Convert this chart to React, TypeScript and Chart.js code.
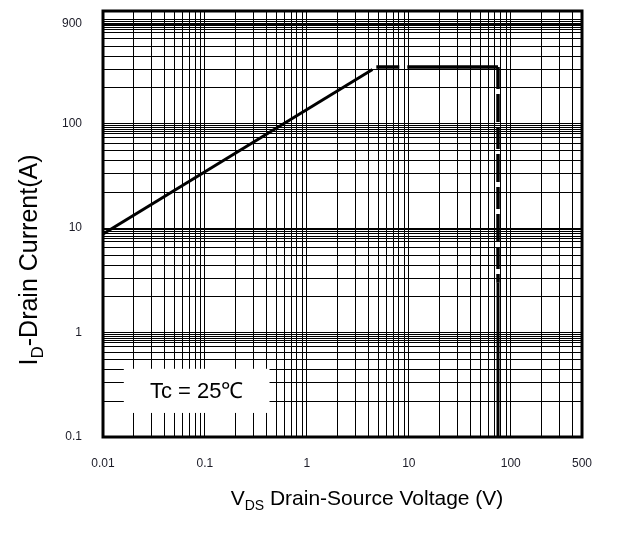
import React, { useEffect, useRef } from 'react';
import { Chart, registerables } from 'chart.js';

Chart.register(...registerables);

// ---- axis ranges & tick labels ----
const xMin = 0.01;
const xMax = 500;
const yMin = 0.1;
const yMax = 1200;
const xTickLabels = [0.01, 0.1, 1, 10, 100, 500];
const yTickLabels = [0.1, 1, 10, 100, 900];
const xGridMantissas = [1, 2, 3, 4, 5, 6, 7, 8, 9];
const xGridExponents = [-2, -1, 0, 1, 2];
const yGridDecades = [1, 10, 100, 1000];
const yGridFactors = [1, 0.96, 0.92, 0.88, 0.84, 0.8, 0.74, 0.65, 0.55, 0.44, 0.33, 0.22];

// ---- SOA boundary (V, A) ----
const rdsLimitV = [0.01, 4.4];
const rdsLimitI = [8.8, 330];
const currentLimitV = [4.8, 75];
const currentLimitI = [350, 350];
const voltageDashV = [75, 75];
const voltageDashI = [350, 3];
const voltageSolidV = [75, 75];
const voltageSolidI = [3, 0.1];

// ---- annotation box (data coords) ----
const noteText = 'Tc = 25\u2103';
const noteX = [0.016, 0.43];
const noteY = [0.17, 0.45];

const FONT = '"Liberation Sans", Arial, sans-serif';

const round = (v: number) => parseFloat(v.toPrecision(6));
const near = (a: number, list: number[]) => list.some((b) => Math.abs(a - b) / b < 1e-6);

const xGridValues = (() => {
  const s: number[] = [];
  xGridExponents.forEach((e) => xGridMantissas.forEach((m) => s.push(round(m * Math.pow(10, e)))));
  xTickLabels.forEach((v) => s.push(v));
  return Array.from(new Set(s.filter((v) => v >= xMin && v <= xMax))).sort((a, b) => a - b);
})();

const yGridValues = (() => {
  const s: number[] = [];
  yGridDecades.forEach((d) => yGridFactors.forEach((f) => s.push(round(d * f))));
  yTickLabels.forEach((v) => s.push(v));
  return Array.from(new Set(s.filter((v) => v >= yMin && v <= yMax))).sort((a, b) => a - b);
})();

const pts = (xs: number[], ys: number[]) => xs.map((x, i) => ({ x, y: ys[i] }));

function drawSubText(
  ctx: CanvasRenderingContext2D,
  parts: { t: string; sub?: boolean }[],
  size: number
) {
  const subSize = Math.round(size * 0.68);
  let total = 0;
  const widths = parts.map((p) => {
    ctx.font = `${p.sub ? subSize : size}px ${FONT}`;
    const w = ctx.measureText(p.t).width;
    total += w;
    return w;
  });
  let x = -total / 2;
  parts.forEach((p, i) => {
    ctx.font = `${p.sub ? subSize : size}px ${FONT}`;
    ctx.fillText(p.t, x, p.sub ? size * 0.22 : 0);
    x += widths[i];
  });
}

const decorPlugin = {
  id: 'decor',
  afterDatasetsDraw(chart: any) {
    const { ctx, scales } = chart;
    const x = scales.x;
    const y = scales.y;
    const l = x.getPixelForValue(noteX[0]);
    const r = x.getPixelForValue(noteX[1]);
    const t = y.getPixelForValue(noteY[1]);
    const b = y.getPixelForValue(noteY[0]);
    ctx.save();
    ctx.fillStyle = '#ffffff';
    ctx.fillRect(l, t, r - l, b - t);
    ctx.fillStyle = '#000';
    ctx.font = `22px ${FONT}`;
    ctx.textAlign = 'center';
    ctx.textBaseline = 'middle';
    ctx.fillText(noteText, (l + r) / 2, (t + b) / 2 + 1);
    ctx.restore();
  },
  afterDraw(chart: any) {
    const { ctx, chartArea } = chart;
    const { left, right, top, bottom } = chartArea;
    ctx.save();
    ctx.strokeStyle = '#000';
    ctx.lineWidth = 3;
    ctx.strokeRect(left, top, right - left, bottom - top);

    ctx.fillStyle = '#000';
    ctx.textAlign = 'left';
    ctx.textBaseline = 'alphabetic';
    // x title
    ctx.save();
    ctx.translate(367, 505);
    drawSubText(
      ctx,
      [{ t: 'V' }, { t: 'DS', sub: true }, { t: ' Drain-Source Voltage (V)' }],
      21
    );
    ctx.restore();
    // y title
    ctx.save();
    ctx.translate(37, 260);
    ctx.rotate(-Math.PI / 2);
    drawSubText(ctx, [{ t: 'I' }, { t: 'D', sub: true }, { t: '-Drain Current(A)' }], 25);
    ctx.restore();
    ctx.restore();
  },
};

export default function App() {
  const ref = useRef<HTMLCanvasElement | null>(null);

  useEffect(() => {
    if (!ref.current) return;
    const lineBase = {
      borderColor: '#000',
      backgroundColor: '#000',
      pointRadius: 0,
      fill: false,
      tension: 0,
      showLine: true,
    };
    const chart = new Chart(ref.current, {
      type: 'line',
      data: {
        datasets: [
          { ...lineBase, label: 'RDS(on) limit', data: pts(rdsLimitV, rdsLimitI), borderWidth: 3 },
          {
            ...lineBase,
            label: 'Current limit',
            data: pts(currentLimitV, currentLimitI),
            borderWidth: 3.5,
            borderDash: [23, 8, 300, 8],
          },
          {
            ...lineBase,
            label: 'BVDSS limit dashed',
            data: pts(voltageDashV, voltageDashI),
            borderWidth: 3.5,
            borderDash: [22, 5, 28, 5],
          },
          {
            ...lineBase,
            label: 'BVDSS limit',
            data: pts(voltageSolidV, voltageSolidI),
            borderWidth: 3,
          },
        ],
      },
      options: {
        responsive: false,
        animation: false,
        events: [],
        layout: { padding: { left: 0, top: 11, right: 42, bottom: 0 } },
        plugins: { legend: { display: false }, tooltip: { enabled: false } },
        scales: {
          x: {
            type: 'logarithmic',
            min: xMin,
            max: xMax,
            afterBuildTicks: (s: any) => {
              s.ticks = xGridValues.map((v) => ({ value: v }));
            },
            afterFit: (s: any) => {
              s.height = 100;
              s.paddingLeft = 0;
              s.paddingRight = 0;
            },
            grid: { color: '#000', lineWidth: 1, drawTicks: false },
            border: { display: false },
            ticks: {
              autoSkip: false,
              maxRotation: 0,
              minRotation: 0,
              padding: 19,
              color: '#1c1c28',
              font: { family: FONT, size: 12 },
              callback: (v: any) => (near(Number(v), xTickLabels) ? String(round(Number(v))) : ''),
            },
          },
          y: {
            type: 'logarithmic',
            min: yMin,
            max: yMax,
            afterBuildTicks: (s: any) => {
              s.ticks = yGridValues.map((v) => ({ value: v }));
            },
            afterFit: (s: any) => {
              s.width = 103;
              s.paddingTop = 0;
              s.paddingBottom = 0;
            },
            grid: { color: '#000', lineWidth: 1, drawTicks: false },
            border: { display: false },
            ticks: {
              autoSkip: false,
              padding: 21,
              color: '#1c1c28',
              font: { family: FONT, size: 12 },
              callback: (v: any) => (near(Number(v), yTickLabels) ? String(round(Number(v))) : ''),
            },
          },
        },
      },
      plugins: [decorPlugin],
    });
    return () => chart.destroy();
  }, []);

  return (
    <div style={{ position: 'absolute', left: 0, top: 0, width: 624, height: 537, background: '#fff' }}>
      <canvas ref={ref} width={624} height={537} />
    </div>
  );
}
